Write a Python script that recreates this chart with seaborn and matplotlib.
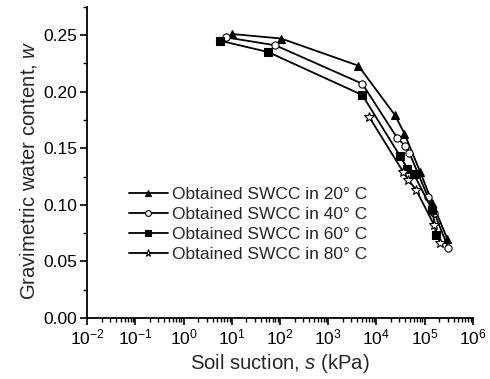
import numpy as np
import pandas as pd
import matplotlib
matplotlib.use("Agg")
import matplotlib.pyplot as plt
import seaborn as sns
from matplotlib.ticker import LogLocator, MultipleLocator, NullFormatter

# Data
s_20 = [10, 105, 4200, 24500, 38000, 81000, 144000, 295000]
w_20 = [0.251, 0.247, 0.223, 0.179, 0.163, 0.129, 0.102, 0.070]

s_40 = [7.6, 80, 5100, 27000, 40000, 48000, 117000, 158000, 310000]
w_40 = [0.248, 0.241, 0.207, 0.159, 0.152, 0.146, 0.107, 0.093, 0.062]

s_60 = [5.8, 57, 5100, 31000, 44000, 60000, 145000, 175000]
w_60 = [0.245, 0.235, 0.197, 0.143, 0.132, 0.127, 0.095, 0.073]

s_80 = [7000, 36000, 46000, 67000, 158000, 210000]
w_80 = [0.178, 0.129, 0.122, 0.113, 0.082, 0.066]

labels = ["Obtained SWCC in 20° C", "Obtained SWCC in 40° C",
          "Obtained SWCC in 60° C", "Obtained SWCC in 80° C"]

sns.set_style("ticks")
plt.rcParams['font.family'] = ['Liberation Sans', 'DejaVu Sans']
plt.rcParams['mathtext.fontset'] = 'custom'
plt.rcParams['mathtext.rm'] = 'Liberation Sans'
plt.rcParams['mathtext.it'] = 'Liberation Sans:italic'
plt.rcParams['mathtext.bf'] = 'Liberation Sans:bold'

fs = 12.5
fl = 14.6
fig = plt.figure(figsize=(4.9, 3.79), dpi=100)
ax = fig.add_axes([0.178, 0.161, 0.787, 0.821])

series = [
    (s_20, w_20, '^', 'black'),
    (s_40, w_40, 'o', 'white'),
    (s_60, w_60, 's', 'black'),
    (s_80, w_80, '*', 'white'),
]
for (sx, wy, m, fc), lab in zip(series, labels):
    ms = 5.2 if m != '*' else 7
    sns.lineplot(x=sx, y=wy, ax=ax, color='black', marker=m, markersize=ms,
                 markerfacecolor=fc, markeredgecolor='black', markeredgewidth=0.8,
                 linewidth=1.3, label=lab, sort=False)

ax.set_xscale('log')
ax.set_xlim(1e-2, 1e6)
ax.set_ylim(0, 0.275)
ax.xaxis.set_major_locator(LogLocator(base=10, numticks=20))
ax.xaxis.set_minor_locator(LogLocator(base=10, subs=np.arange(2, 10), numticks=100))
ax.xaxis.set_minor_formatter(NullFormatter())
ax.yaxis.set_major_locator(MultipleLocator(0.05))
ax.yaxis.set_minor_locator(MultipleLocator(0.025))
ax.yaxis.set_major_formatter(matplotlib.ticker.FormatStrFormatter('%.2f'))

for side in ['top', 'right']:
    ax.spines[side].set_visible(False)
for side in ['left', 'bottom']:
    ax.spines[side].set_linewidth(1.3)
    ax.spines[side].set_color('black')

ax.tick_params(which='major', direction='out', length=5, width=1.2, labelsize=fs, pad=2, colors='black')
ax.tick_params(which='minor', direction='out', length=3, width=1.0, colors='black')

ax.set_xlabel("Soil suction, $s$ (kPa)", fontsize=fl, labelpad=3)
ax.set_ylabel("Gravimetric water content, $w$", fontsize=fl)
ax.yaxis.set_label_coords(-0.125, 0.475)

ax.legend(loc='upper left', bbox_to_anchor=(0.108, 0.42), frameon=False,
          fontsize=fs, handlelength=2.25, handletextpad=0.25, labelspacing=0.28,
          borderpad=0, borderaxespad=0, markerscale=0.8)

fig.savefig("out.png", dpi=100)
